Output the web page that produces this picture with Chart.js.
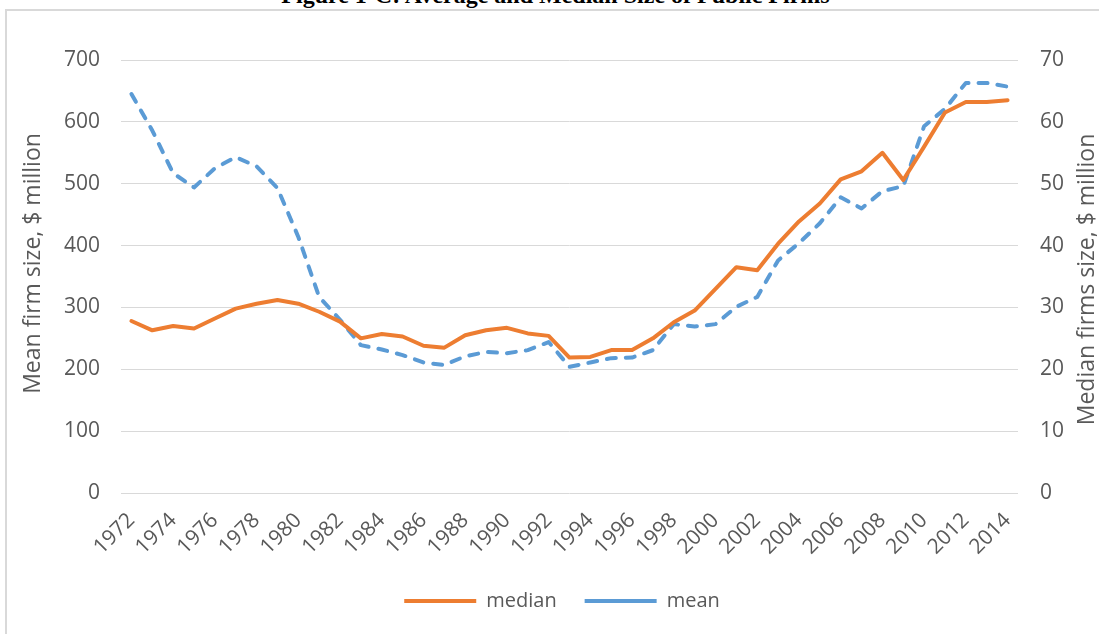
<!DOCTYPE html>
<html>
<head>
<meta charset="utf-8">
<script src="https://cdn.jsdelivr.net/npm/chart.js@4.4.1/dist/chart.umd.min.js"></script>
<style>
  html, body { margin: 0; padding: 0; background: #ffffff; }
  #page { position: relative; width: 1099px; height: 634px; overflow: hidden; background: #ffffff; }
  #frame { position: absolute; left: 5px; top: 9px; width: 1200px; height: 700px; border: 2px solid #d9d9d9; box-sizing: border-box; }
  #fig-title { position: absolute; left: 6px; top: -17px; width: 1099px; text-align: center; font: bold 24px "Liberation Serif", "DejaVu Serif", serif; line-height: 24px; color: #000; white-space: nowrap; }
  #wrap { position: absolute; left: 0; top: 0; width: 1099px; height: 634px; }
</style>
</head>
<body>
<div id="page">
  <div id="frame"></div>
  <div id="fig-title">Figure 1-C: Average and Median Size of Public Firms</div>
  <div id="wrap"><canvas id="c" width="1099" height="634"></canvas></div>
</div>
<script>
const years = [1972,1973,1974,1975,1976,1977,1978,1979,1980,1981,1982,1983,1984,1985,1986,1987,1988,1989,1990,1991,1992,1993,1994,1995,1996,1997,1998,1999,2000,2001,2002,2003,2004,2005,2006,2007,2008,2009,2010,2011,2012,2013,2014];

// Median firm size, $ million (right axis)
const medianValues = [27.8,26.3,27.0,26.6,28.2,29.8,30.6,31.2,30.6,29.3,27.7,25.0,25.7,25.3,23.8,23.5,25.5,26.3,26.7,25.8,25.4,21.9,22.0,23.1,23.1,25.0,27.6,29.5,33.0,36.5,36.0,40.3,43.9,46.8,50.7,52.0,55.0,50.6,56.0,61.5,63.2,63.2,63.5];

// Mean firm size, $ million (left axis)
const meanValues = [645,586,517,494,525,543,528,493,414,317,280,239,232,223,211,207,221,228,226,231,244,204,211,218,219,231,273,269,273,301,317,376,404,436,478,460,488,496,593,621,663,663,657];

const seriesNames = ['median', 'mean'];
const leftAxisTitle = 'Mean firm size, $ million';
const rightAxisTitle = 'Median firms size, $ million';
const leftRange = [0, 700, 100];
const rightRange = [0, 70, 10];

const FONT = '"Open Sans", "Liberation Sans", sans-serif';
const GREY = '#595959';

const PLOT_BOTTOM = 493;
const PAD_BOTTOM = 13;

// Both axis titles read bottom-to-top
const axisTitlesPlugin = {
  id: 'axisTitles',
  afterDraw(chart) {
    const L = chart.scales.yL, R = chart.scales.yR;
    const ctx = chart.ctx;
    const mid = (L.top + L.bottom) / 2;
    const items = [
      [leftAxisTitle, L.left + 8, mid - 13],
      [rightAxisTitle, R.right - 12, mid + 3]
    ];
    ctx.save();
    ctx.font = '23px ' + FONT;
    ctx.fillStyle = GREY;
    ctx.textAlign = 'center';
    ctx.textBaseline = 'middle';
    items.forEach(function (it) {
      ctx.save();
      ctx.translate(it[1], it[2]);
      ctx.rotate(-Math.PI / 2);
      ctx.fillText(it[0], 0, 0);
      ctx.restore();
    });
    ctx.restore();
  }
};

new Chart(document.getElementById('c').getContext('2d'), {
  type: 'line',
  data: {
    labels: years.map(String),
    datasets: [
      {
        label: seriesNames[0],
        data: medianValues,
        yAxisID: 'yR',
        borderColor: '#ED7D31',
        backgroundColor: '#ED7D31',
        borderWidth: 4,
        borderCapStyle: 'round',
        borderJoinStyle: 'round',
        pointRadius: 0,
        pointHoverRadius: 0,
        tension: 0
      },
      {
        label: seriesNames[1],
        data: meanValues,
        yAxisID: 'yL',
        borderColor: '#5B9BD5',
        backgroundColor: '#5B9BD5',
        borderWidth: 4,
        borderDash: [9, 10],
        borderCapStyle: 'round',
        borderJoinStyle: 'round',
        pointRadius: 0,
        pointHoverRadius: 0,
        tension: 0
      }
    ]
  },
  plugins: [axisTitlesPlugin],
  options: {
    responsive: false,
    animation: false,
    events: [],
    layout: { padding: { left: 25, right: 0, top: 60, bottom: PAD_BOTTOM } },
    plugins: {
      title: { display: false },
      tooltip: { enabled: false },
      legend: {
        position: 'bottom',
        labels: {
          usePointStyle: true,
          pointStyle: 'line',
          pointStyleWidth: 72,
          padding: 28,
          color: GREY,
          font: { family: FONT, size: 20 }
        }
      }
    },
    scales: {
      x: {
        type: 'category',
        offset: true,
        grid: { display: false, drawTicks: false },
        border: { display: false },
        ticks: {
          autoSkip: false,
          maxRotation: 45,
          minRotation: 45,
          padding: 15,
          color: GREY,
          font: { family: FONT, size: 21 },
          callback: function (v, i) { return i % 2 === 0 ? String(years[i]) : ''; }
        },
        afterFit: function (s) {
          const lh = s.chart.legend ? s.chart.legend.height : 58;
          s.height = 634 - PAD_BOTTOM - lh - PLOT_BOTTOM;
        }
      },
      yL: {
        position: 'left',
        min: leftRange[0],
        max: leftRange[1],
        grid: { color: '#d9d9d9', lineWidth: 1, drawTicks: false },
        border: { display: false },
        ticks: { stepSize: leftRange[2], padding: 21, color: GREY, font: { family: FONT, size: 21 } },
        title: { display: false },
        afterFit: function (s) { s.width = 96; }
      },
      yR: {
        position: 'right',
        min: rightRange[0],
        max: rightRange[1],
        grid: { display: false, drawTicks: false },
        border: { display: false },
        ticks: { stepSize: rightRange[2], padding: 22, color: GREY, font: { family: FONT, size: 21 } },
        title: { display: false },
        afterFit: function (s) { s.width = 81; }
      }
    }
  }
});
</script>
</body>
</html>
